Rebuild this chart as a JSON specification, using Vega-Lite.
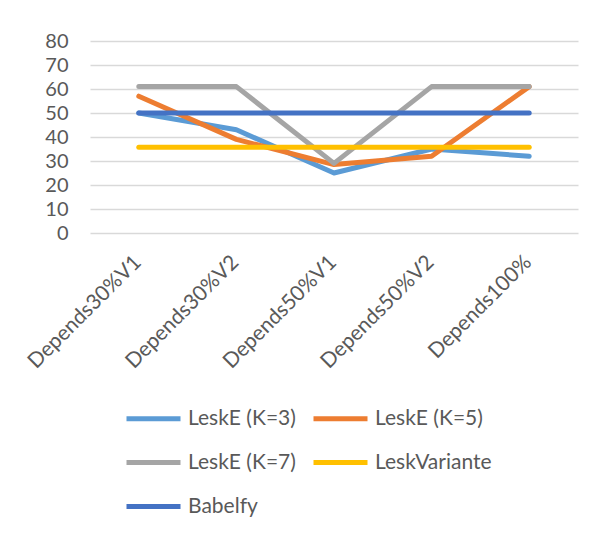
{
  "$schema": "https://vega.github.io/schema/vega-lite/v6.json",
  "autosize": "none",
  "width": 488,
  "height": 192,
  "padding": {"left": 90, "top": 41, "right": 18, "bottom": 302},
  "background": "white",
  "config": {
    "view": {"stroke": null},
    "font": "Lato",
    "axis": {"labelFont": "Lato", "labelColor": "#595959"},
    "legend": {"labelFont": "Lato", "labelColor": "#595959"}
  },
  "data": {
    "values": [
      {"cat": "Depends30%V1", "series": "LeskE (K=3)", "value": 50},
      {"cat": "Depends30%V2", "series": "LeskE (K=3)", "value": 43},
      {"cat": "Depends50%V1", "series": "LeskE (K=3)", "value": 25},
      {"cat": "Depends50%V2", "series": "LeskE (K=3)", "value": 35},
      {"cat": "Depends100%", "series": "LeskE (K=3)", "value": 32},
      {"cat": "Depends30%V1", "series": "LeskE (K=5)", "value": 57},
      {"cat": "Depends30%V2", "series": "LeskE (K=5)", "value": 39},
      {"cat": "Depends50%V1", "series": "LeskE (K=5)", "value": 28.5},
      {"cat": "Depends50%V2", "series": "LeskE (K=5)", "value": 32},
      {"cat": "Depends100%", "series": "LeskE (K=5)", "value": 61},
      {"cat": "Depends30%V1", "series": "LeskE (K=7)", "value": 61},
      {"cat": "Depends30%V2", "series": "LeskE (K=7)", "value": 61},
      {"cat": "Depends50%V1", "series": "LeskE (K=7)", "value": 29},
      {"cat": "Depends50%V2", "series": "LeskE (K=7)", "value": 61},
      {"cat": "Depends100%", "series": "LeskE (K=7)", "value": 61},
      {"cat": "Depends30%V1", "series": "LeskVariante", "value": 35.7},
      {"cat": "Depends30%V2", "series": "LeskVariante", "value": 35.7},
      {"cat": "Depends50%V1", "series": "LeskVariante", "value": 35.7},
      {"cat": "Depends50%V2", "series": "LeskVariante", "value": 35.7},
      {"cat": "Depends100%", "series": "LeskVariante", "value": 35.7},
      {"cat": "Depends30%V1", "series": "Babelfy", "value": 50},
      {"cat": "Depends30%V2", "series": "Babelfy", "value": 50},
      {"cat": "Depends50%V1", "series": "Babelfy", "value": 50},
      {"cat": "Depends50%V2", "series": "Babelfy", "value": 50},
      {"cat": "Depends100%", "series": "Babelfy", "value": 50}
    ]
  },
  "mark": {"type": "line", "strokeWidth": 5, "strokeCap": "round", "strokeJoin": "round"},
  "encoding": {
    "x": {
      "field": "cat",
      "type": "nominal",
      "sort": null,
      "scale": {"paddingOuter": 0.5},
      "axis": {
        "title": null,
        "domain": false,
        "ticks": false,
        "labelAngle": -45,
        "labelAlign": "right",
        "labelBaseline": "top",
        "labelFontSize": 21,
        "labelPadding": 18,
        "labelOffset": -9,
        "labelOverlap": false
      }
    },
    "y": {
      "field": "value",
      "type": "quantitative",
      "scale": {"domain": [0, 80]},
      "axis": {
        "title": null,
        "domain": false,
        "ticks": false,
        "values": [0, 10, 20, 30, 40, 50, 60, 70, 80],
        "labelOverlap": false,
        "labelFontSize": 20,
        "labelPadding": 22,
        "gridColor": "#D9D9D9",
        "gridWidth": 1.5
      }
    },
    "color": {
      "field": "series",
      "type": "nominal",
      "sort": null,
      "scale": {
        "domain": ["LeskE (K=3)", "LeskE (K=5)", "LeskE (K=7)", "LeskVariante", "Babelfy"],
        "range": ["#5B9BD5", "#ED7D31", "#A5A5A5", "#FFC000", "#4472C4"]
      },
      "legend": {
        "title": null,
        "orient": "none",
        "direction": "horizontal",
        "legendX": 34,
        "legendY": 348,
        "columns": 2,
        "padding": 0,
        "columnPadding": 7,
        "rowPadding": 4,
        "symbolType": "stroke",
        "symbolSize": 2916,
        "symbolStrokeWidth": 5,
        "labelFontSize": 21,
        "labelOffset": 5,
        "labelLimit": 300
      }
    }
  }
}
